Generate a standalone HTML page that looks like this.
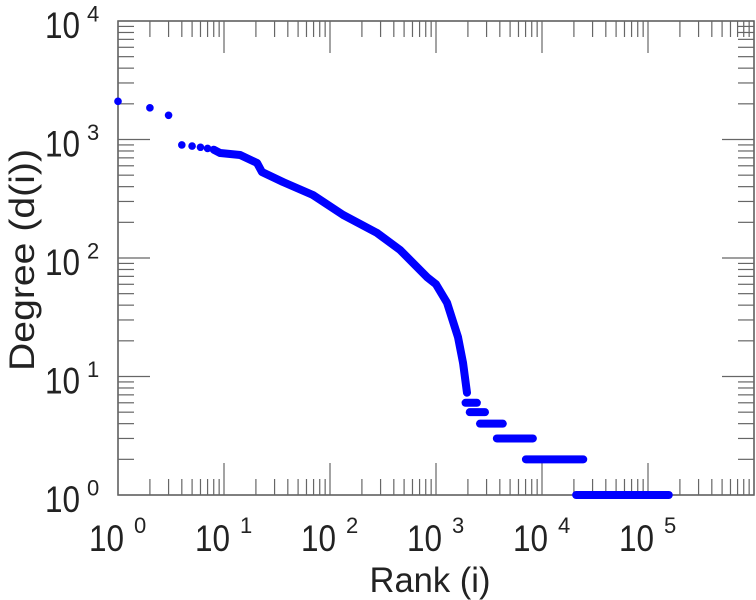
<!DOCTYPE html>
<html><head><meta charset="utf-8"><style>
html,body{margin:0;padding:0;background:#fff;}
svg{display:block;font-family:"Liberation Sans",sans-serif;}
</style></head><body>
<svg id="chart" width="756" height="600">
<g id="axes"></g>
<g id="marks"></g>
<text x="430" y="592" font-size="35" textLength="121" lengthAdjust="spacingAndGlyphs" text-anchor="middle" fill="#222">Rank (i)</text>
<text transform="translate(34,260) rotate(-90)" font-size="35" textLength="222" lengthAdjust="spacingAndGlyphs" text-anchor="middle" fill="#222">Degree (d(i))</text>
</svg>
<script>
const rankPts = [1,2,3,4,5,6,7,8,9.2,14.2,20.5,22.8,36,69,133,277,458,822,1000,1270,1613,1800,1960];
const degreePts = [2100,1850,1600,900,880,860,840,820,769,740,634,532,438,340,231,163,117,69,60,42,21.5,13,7.3];
const stepDegrees = [6,5,4,3,2,1];
const stepStart = [1900,2080,2600,3750,7050,21000];
const stepEnd = [2430,2900,4270,8200,24500,157000];
const xTickExps = [0,1,2,3,4,5];
const yTickExps = [0,1,2,3,4];

const L=118,R=754,T=21,B=495;
const xMin=0,xMax=6,yMin=0,yMax=4;
const sx=v=>L+(Math.log10(v)-xMin)/(xMax-xMin)*(R-L);
const sy=v=>B-(Math.log10(v)-yMin)/(yMax-yMin)*(B-T);
const NS="http://www.w3.org/2000/svg";
const axes=document.getElementById('axes'), marks=document.getElementById('marks');
function mk(tag,attrs,parent){const e=document.createElementNS(NS,tag);for(const k in attrs)e.setAttribute(k,attrs[k]);parent.appendChild(e);return e;}

const frame=mk('rect',{x:L,y:T,width:R-L,height:B-T,fill:'none',stroke:'#555','stroke-width':1.5},axes);



for(let e=xMin;e<xMax;e++){for(let m=1;m<10;m++){const x=sx(m*Math.pow(10,e));const len=m===1?32:16;
 const t1=mk('line',{x1:x,x2:x,y1:B,y2:B-len,stroke:'#666','stroke-width':1.2},axes);
 
 
 const t2=mk('line',{x1:x,x2:x,y1:T,y2:T+len,stroke:'#666','stroke-width':1.2},axes);
 
 }}
for(let e=yMin;e<yMax;e++){for(let m=1;m<10;m++){const y=sy(m*Math.pow(10,e));const len=m===1?32:16;
 const t1=mk('line',{x1:L,x2:L+len,y1:y,y2:y,stroke:'#666','stroke-width':1.2},axes);
 
 
 const t2=mk('line',{x1:R,x2:R-len,y1:y,y2:y,stroke:'#666','stroke-width':1.2},axes);
 
 }}

xTickExps.forEach(e=>{const x=sx(Math.pow(10,e));
 const t=mk('text',{x:x-29,y:551,'font-size':37,textLength:35,lengthAdjust:'spacingAndGlyphs',fill:'#222'},axes);t.textContent='10';
 
 
 const s=mk('text',{x:x+16,y:533,'font-size':22,fill:'#222'},axes);s.textContent=String(e);
 
 });
yTickExps.forEach(e=>{const y=sy(Math.pow(10,e));
 const t=mk('text',{x:45,y:y+17,'font-size':37,textLength:35,lengthAdjust:'spacingAndGlyphs',fill:'#222'},axes);t.textContent='10';
 
 
 const s=mk('text',{x:87,y:y+0.5,'font-size':22,fill:'#222'},axes);s.textContent=String(e);
 
 });

const pts=rankPts.map((r,i)=>sx(r)+','+sy(degreePts[i]));
const band=mk('polyline',{points:pts.slice(7).join(' '),fill:'none',stroke:'#0000ff','stroke-width':8,'stroke-linecap':'round','stroke-linejoin':'round'},marks);


rankPts.forEach((r,i)=>{const c=mk('circle',{cx:sx(r),cy:sy(degreePts[i]),r:3.8,fill:'#0000ff'},marks);
 
 });
stepDegrees.forEach((d,i)=>{const l=mk('line',{x1:sx(stepStart[i]),x2:sx(stepEnd[i]),y1:sy(d),y2:sy(d),stroke:'#0000ff','stroke-width':8,'stroke-linecap':'round'},marks);
 
 });
</script>
</body></html>
